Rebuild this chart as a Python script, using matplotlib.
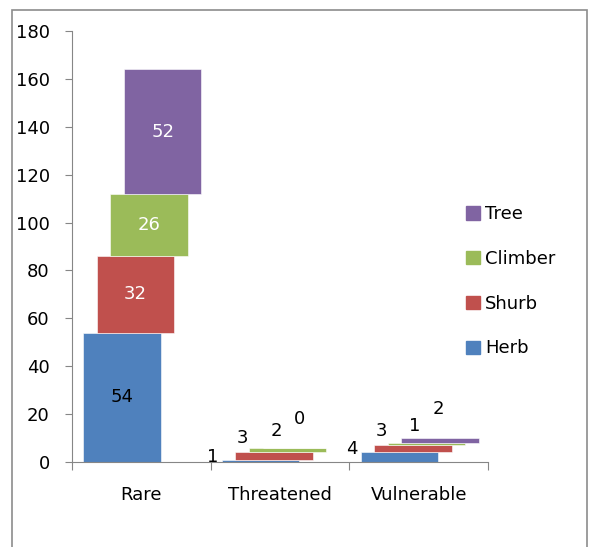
import matplotlib
matplotlib.use("Agg")
import matplotlib.pyplot as plt
from matplotlib.patches import Rectangle, Patch
import numpy as np

plt.rcParams['font.family'] = ['DejaVu Sans']

categories = ['Rare', 'Threatened', 'Vulnerable']
series = ['Herb', 'Shurb', 'Climber', 'Tree']
herb = [54, 1, 4]
shurb = [32, 3, 3]
climber = [26, 2, 1]
tree = [52, 0, 2]
yticks = [0, 20, 40, 60, 80, 100, 120, 140, 160, 180]

colors = ['#4F81BD', '#C0504D', '#9BBB59', '#8064A2']
inner_text = ['black', 'white', 'white', 'white']
# excel put the small labels in odd places, offsets in pixels from bar top-left
small_off = [(-9, 3), (7, 14), (27, 17), (37, 29)]

fig = plt.figure(figsize=(5.9, 5.47), dpi=100)
ax = fig.add_axes([72/590, 1-462/547, 416/590, 431/547])

# chart border
fig.patches.append(Rectangle((12/590, -0.05), 575/590, 1-10/547+0.05, transform=fig.transFigure,
                             fill=False, edgecolor='#8C8C8C', lw=1.2))

x = np.arange(len(categories))
width = 0.558
step = 0.098
bottom = np.zeros(len(categories))
for i, (name, vals) in enumerate(zip(series, [herb, shurb, climber, tree])):
    vals = np.array(vals, dtype=float)
    pos = x - 0.14 + i*step
    ax.bar(pos, vals, width, bottom=bottom, color=colors[i], edgecolor='white', linewidth=0.4, label=name)
    for j in range(len(categories)):
        if vals[j] >= 10:
            ax.text(pos[j], bottom[j] + vals[j]/2, '%d' % vals[j], ha='center', va='center',
                    fontsize=13, color=inner_text[i])
        else:
            ax.annotate('%d' % vals[j], (pos[j] - width/2, bottom[j] + vals[j]),
                        xytext=small_off[i], textcoords='offset pixels',
                        ha='center', va='center', fontsize=13, color='black')
    bottom += vals

ax.set_xlim(-0.5, 2.5)
ax.set_ylim(0, 180)
ax.set_yticks(yticks)
ax.set_xticks([-0.5, 0.5, 1.5, 2.5])
ax.set_xticklabels([])
ax.set_xticks(x, minor=True)
ax.set_xticklabels(categories, minor=True)
ax.tick_params(axis='x', which='minor', length=0, pad=17, labelsize=13)
ax.tick_params(axis='x', which='major', length=6, color='#868686')
ax.tick_params(axis='y', length=5, pad=11, labelsize=13, color='#868686')
for s in ['top', 'right']:
    ax.spines[s].set_visible(False)
for s in ['left', 'bottom']:
    ax.spines[s].set_color('#868686')

handles = [Patch(color=colors[i], label=series[i]) for i in range(3, -1, -1)]
fig.legend(handles=handles, loc='upper left', bbox_to_anchor=(450/590, 1-189/547),
           frameon=False, fontsize=13, handlelength=0.75, handleheight=0.75,
           handletextpad=0.3, labelspacing=1.48)

fig.savefig('out.png', dpi=100)
